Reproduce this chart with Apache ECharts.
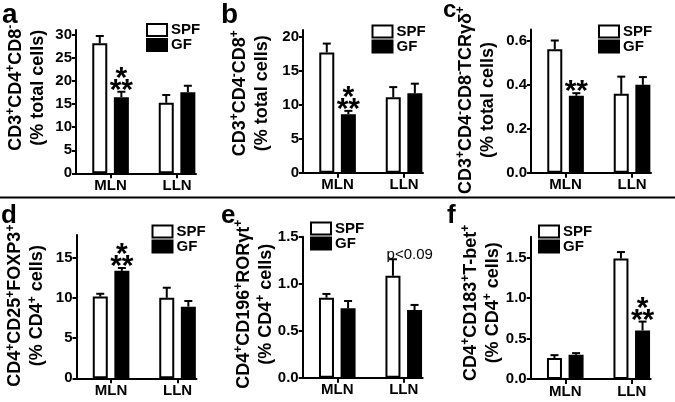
<!DOCTYPE html>
<html><head><meta charset="utf-8">
<script src="https://cdn.jsdelivr.net/npm/echarts@6/dist/echarts.min.js"></script>
<style>html,body{margin:0;padding:0;background:#fff}#c{width:675px;height:402px}</style>
</head><body><div id="c"></div>
<script>
// ---------- data ----------
const categories = ['MLN', 'LLN'];
const seriesNames = ['SPF', 'GF'];
const panelLetters = ['a', 'b', 'c', 'd', 'e', 'f'];

// a
const aSPF = [28.2, 15.3], aSPFsem = [1.6, 1.7];
const aGF = [16.5, 17.6], aGFsem = [1.2, 1.4];
const aTicks = [0, 5, 10, 15, 20, 25, 30], aMax = 31.1;
const aGFstars = ['*\n**', ''];
const aTitle = '{b|CD3}{s|+}{b|CD4}{s|+}{b|CD8}{s|-}\n{b|(% total cells)}';
// b
const bSPF = [17.7, 11.1], bSPFsem = [1.3, 1.5];
const bGF = [8.6, 11.7], bGFsem = [0.5, 1.4];
const bTicks = [0, 5, 10, 15, 20], bMax = 21;
const bGFstars = ['*\n**', ''];
const bTitle = '{b|CD3}{s|+}{b|CD4}{s|-}{b|CD8}{s|+}\n{b|(% total cells)}';
// c
const cSPF = [0.56, 0.358], cSPFsem = [0.04, 0.078];
const cGF = [0.349, 0.399], cGFsem = [0.012, 0.035];
const cTicks = [0, 0.2, 0.4, 0.6], cMax = 0.65;
const cGFstars = ['**', ''];
const cTitle = '{b|CD3}{s|+}{b|CD4}{s|-}{b|CD8}{s|-}{b|TCRγδ}{s|+}\n{b|(% total cells)}';
// d
const dSPF = [10.15, 10.0], dSPFsem = [0.35, 1.25];
const dGF = [13.35, 8.9], dGFsem = [0.35, 0.7];
const dTicks = [0, 5, 10, 15], dMax = 17.8;
const dGFstars = ['*\n**', ''];
const dTitle = '{b|CD4}{s|+}{b|CD25}{s|+}{b|FOXP3}{s|+}\n{b|(% CD4}{s|+}{b| cells)}';
// e
const eSPF = [0.851, 1.085], eSPFsem = [0.04, 0.175];
const eGF = [0.738, 0.72], eGFsem = [0.078, 0.054];
const eTicks = [0, 0.5, 1.0, 1.5], eMax = 1.5;
const eGFstars = ['', ''];
const eGroupNote = ['', 'p<0.09'];
const eTitle = '{b|CD4}{s|+}{b|CD196}{s|+}{b|RORγt}{s|+}\n{b|(% CD4}{s|+}{b| cells)}';
// f
const fSPF = [0.26, 1.49], fSPFsem = [0.035, 0.08];
const fGF = [0.30, 0.60], fGFsem = [0.02, 0.11];
const fTicks = [0, 0.5, 1.0, 1.5], fMax = 1.76;
const fGFstars = ['', '*\n**'];
const fTitle = '{b|CD4}{s|+}{b|CD183}{s|+}{b|T-bet}{s|+}\n{b|(% CD4}{s|+}{b| cells)}';

const panels = [
  {spf: aSPF, spfSem: aSPFsem, gf: aGF, gfSem: aGFsem, ticks: aTicks, max: aMax, dec: 0, title: aTitle, gfStars: aGFstars},
  {spf: bSPF, spfSem: bSPFsem, gf: bGF, gfSem: bGFsem, ticks: bTicks, max: bMax, dec: 0, title: bTitle, gfStars: bGFstars},
  {spf: cSPF, spfSem: cSPFsem, gf: cGF, gfSem: cGFsem, ticks: cTicks, max: cMax, dec: 1, title: cTitle, gfStars: cGFstars},
  {spf: dSPF, spfSem: dSPFsem, gf: dGF, gfSem: dGFsem, ticks: dTicks, max: dMax, dec: 0, title: dTitle, gfStars: dGFstars},
  {spf: eSPF, spfSem: eSPFsem, gf: eGF, gfSem: eGFsem, ticks: eTicks, max: eMax, dec: 1, title: eTitle, gfStars: eGFstars, note: eGroupNote},
  {spf: fSPF, spfSem: fSPFsem, gf: fGF, gfSem: fGFsem, ticks: fTicks, max: fMax, dec: 1, title: fTitle, gfStars: fGFstars}
];

// ---------- layout / style ----------
const FF = '"Liberation Sans", Arial, sans-serif';
const layout = [
  {left: 76,  top: 30,   h: 143.3, lg: [146, 22.5], lt: [2, 25, 28],    shift: 14, gap: 27},
  {left: 303, top: 30,   h: 142.7, lg: [371.5, 24], lt: [221, 25, 28],  shift: 8,  gap: 30},
  {left: 531, top: 29.5, h: 143.2, lg: [598, 24],   lt: [443, 20, 24],  shift: 1,  gap: 32},
  {left: 76.5, top: 235, h: 143.3, lg: [151.5, 224], lt: [1, 226, 26],  shift: 1,  gap: 28},
  {left: 302.7, top: 236.7, h: 141, lg: [310, 221], lt: [221, 226, 26], shift: 3,  gap: 26},
  {left: 530.7, top: 236.7, h: 142.3, lg: [538, 224], lt: [447, 226, 26], shift: 5, gap: 27}
];
const GW = 120, XMIN = -0.52, XMAX = 1.285;
const BW = 15, BGAP = 0.44;
const OFF = BW * (1 + BGAP) / 2;
const titleRich = {
  b: {fontSize: 18, fontWeight: 'bold', fontFamily: FF, fill: '#000', lineHeight: 22},
  s: {fontSize: 12, fontWeight: 'bold', fontFamily: FF, fill: '#000', verticalAlign: 'top', lineHeight: 13}
};

const grids = [], xAxes = [], yAxes = [], series = [], legends = [], graphics = [];

function errSeries(gi, means, sems, stars, side) {
  return {
    type: 'custom', xAxisIndex: gi, yAxisIndex: gi, clip: false, z: 5, silent: true,
    data: means.map((m, i) => [i, m, sems[i]]),
    renderItem(params, api) {
      const x = api.value(0), m = api.value(1), s = api.value(2);
      const p0 = api.coord([x, m]), p1 = api.coord([x, m + s]);
      const cx = p0[0] + side * OFF;
      const ch = [
        {type: 'line', shape: {x1: cx, y1: p0[1], x2: cx, y2: p1[1]}, style: {stroke: '#000', lineWidth: 2}},
        {type: 'line', shape: {x1: cx - 4, y1: p1[1], x2: cx + 4, y2: p1[1]}, style: {stroke: '#000', lineWidth: 2}}
      ];
      const st = stars ? stars[params.dataIndex] : '';
      if (st) {
        const lines = st.split('\n').reverse();
        lines.forEach((t, k) => {
          ch.push({type: 'text', style: {text: t, x: cx, y: p1[1] - 1 - 12 * k, align: 'center', verticalAlign: 'middle',
            font: 'bold 30px ' + FF, fill: '#000'}});
        });
      }
      return {type: 'group', children: ch};
    }
  };
}

function noteSeries(gi, p, notes) {
  return {
    type: 'custom', xAxisIndex: gi, yAxisIndex: gi, clip: false, z: 6, silent: true,
    data: notes.map((n, i) => [i, Math.max(p.spf[i] + p.spfSem[i], p.gf[i] + p.gfSem[i])]),
    renderItem(params, api) {
      const t = notes[params.dataIndex];
      if (!t) return null;
      const pt = api.coord([api.value(0), api.value(1)]);
      return {type: 'text', style: {text: t, x: pt[0] + 6, y: pt[1] - 4, align: 'center', verticalAlign: 'middle',
        font: '15px ' + FF, fill: '#000'}};
    }
  };
}

panels.forEach((p, gi) => {
  const L = layout[gi];
  grids.push({left: L.left, top: L.top, width: GW, height: L.h});
  xAxes.push({
    type: 'value', gridIndex: gi, min: XMIN, max: XMAX,
    axisLine: {show: true, onZero: false, lineStyle: {color: '#000', width: 2}},
    axisTick: {show: true, length: 5, lineStyle: {color: '#000', width: 2}, customValues: [0, 1]},
    axisLabel: {customValues: [0, 1], formatter: v => categories[Math.round(v)], color: '#000', fontSize: 15,
      fontWeight: 'bold', fontFamily: FF, margin: 5},
    splitLine: {show: false}
  });
  yAxes.push({
    type: 'value', gridIndex: gi, min: 0, max: p.max,
    axisLine: {show: true, onZero: false, lineStyle: {color: '#000', width: 2}},
    axisTick: {show: true, length: 4, lineStyle: {color: '#000', width: 2}, customValues: p.ticks},
    axisLabel: {customValues: p.ticks, formatter: v => v.toFixed(p.dec), color: '#000', fontSize: 15,
      fontWeight: 'bold', fontFamily: FF, margin: 4},
    splitLine: {show: false}
  });
  series.push({
    type: 'bar', name: seriesNames[0], xAxisIndex: gi, yAxisIndex: gi, silent: true,
    data: p.spf.map((v, i) => [i, v]), barWidth: BW, barGap: (BGAP * 100) + '%',
    itemStyle: {color: '#fff', borderColor: '#000', borderWidth: 2}
  });
  series.push({
    type: 'bar', name: seriesNames[1], xAxisIndex: gi, yAxisIndex: gi, silent: true,
    data: p.gf.map((v, i) => [i, v]), barWidth: BW, barGap: (BGAP * 100) + '%',
    itemStyle: {color: '#000', borderColor: '#000', borderWidth: 2}
  });
  series.push(errSeries(gi, p.spf, p.spfSem, p.spfStars, -1));
  series.push(errSeries(gi, p.gf, p.gfSem, p.gfStars, 1));
  if (p.note) series.push(noteSeries(gi, p, p.note));
  legends.push({
    left: L.lg[0], top: L.lg[1], orient: 'vertical', padding: 0, itemGap: 0, itemWidth: 20, itemHeight: 12,
    icon: 'rect', data: seriesNames, selectedMode: false,
    textStyle: {fontSize: 15, fontWeight: 'bold', color: '#000', fontFamily: FF, padding: [0, 0, 0, -1]},
    itemStyle: {borderColor: '#000', borderWidth: 2}
  });
  // y-axis title (rotated rich text)
  graphics.push({type: 'text', x: L.left - L.gap, y: L.top + L.h / 2 - L.shift, rotation: Math.PI / 2,
    style: {text: p.title, rich: titleRich, align: 'center', verticalAlign: 'bottom', fill: '#000'}});
  // panel letter
  graphics.push({type: 'text', x: L.lt[0], y: L.lt[1] - 10,
    style: {text: panelLetters[gi], font: 'bold ' + L.lt[2] + 'px ' + FF, fill: '#000', verticalAlign: 'middle'}});
});

graphics.push({type: 'line', shape: {x1: 0, y1: 197.5, x2: 675, y2: 197.5}, style: {stroke: '#000', lineWidth: 2}});

const chart = echarts.init(document.getElementById('c'), null, {renderer: 'canvas'});
chart.setOption({
  animation: false,
  backgroundColor: '#fff',
  grid: grids, xAxis: xAxes, yAxis: yAxes, series: series, legend: legends, graphic: graphics
});
</script></body></html>
